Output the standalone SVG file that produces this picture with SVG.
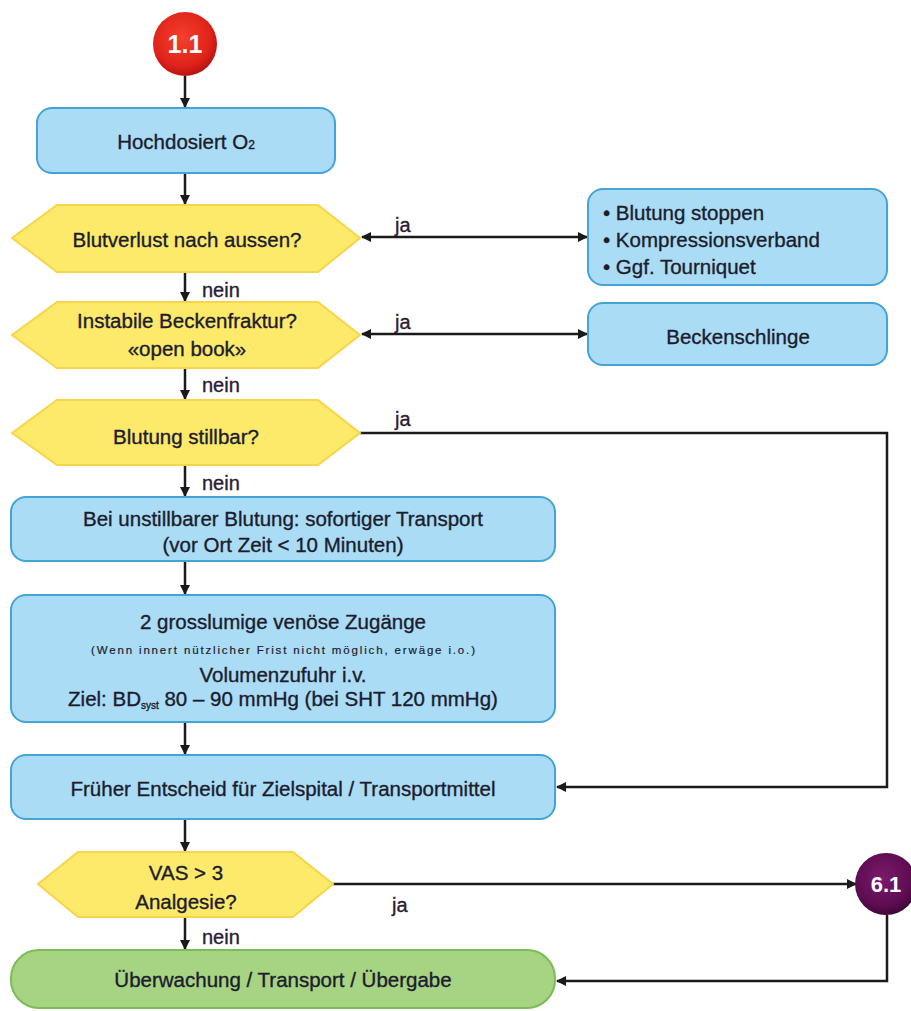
<svg xmlns="http://www.w3.org/2000/svg" width="911" height="1011" viewBox="0 0 911 1011">
<defs>
<style>
.t{font-family:"Liberation Sans",Arial,sans-serif;font-size:20.5px;fill:#1c1c2e;stroke:#1c1c2e;stroke-width:0.35;text-anchor:middle}
.tl{font-family:"Liberation Sans",Arial,sans-serif;font-size:20.5px;fill:#1c1c2e;stroke:#1c1c2e;stroke-width:0.35}
.lab{font-family:"Liberation Sans",Arial,sans-serif;font-size:20px;fill:#2a1c33;stroke:#2a1c33;stroke-width:0.35}
.sm{font-family:"Liberation Sans",Arial,sans-serif;font-size:11.5px;fill:#1c1c2e;stroke:#1c1c2e;stroke-width:0.2;text-anchor:middle}
.blue{fill:#aadcf5;stroke:#44a4d6;stroke-width:2}
.yel{fill:#fde96a;stroke:#f6d54a;stroke-width:2}
.grn{fill:#a6d483;stroke:#7cbb55;stroke-width:2}
.ln{fill:none;stroke:#1a1a1a;stroke-width:2.5}
.ct{font-family:"Liberation Sans",Arial,sans-serif;font-weight:bold;fill:#ffffff;text-anchor:middle}
</style>
<marker id="ah" viewBox="0 0 10 10" refX="9" refY="5" markerWidth="4.8" markerHeight="4" markerUnits="strokeWidth" orient="auto-start-reverse">
<path d="M0,0 L10,5 L0,10 z" fill="#1a1a1a"/>
</marker>
<radialGradient id="red" cx="0.45" cy="0.4" r="0.6">
<stop offset="0" stop-color="#f4402c"/>
<stop offset="0.75" stop-color="#e0231a"/>
<stop offset="1" stop-color="#b81410"/>
</radialGradient>
<radialGradient id="pur" cx="0.45" cy="0.4" r="0.6">
<stop offset="0" stop-color="#7a1a6c"/>
<stop offset="0.75" stop-color="#5e0c52"/>
<stop offset="1" stop-color="#420638"/>
</radialGradient>
</defs>
<rect width="911" height="1011" fill="#ffffff"/>

<g id="connectors">
<line class="ln" x1="185" y1="76" x2="185" y2="107" marker-end="url(#ah)"/>
<line class="ln" x1="185" y1="174" x2="185" y2="204" marker-end="url(#ah)"/>
<line class="ln" x1="185" y1="273" x2="185" y2="301" marker-end="url(#ah)"/>
<line class="ln" x1="185" y1="369" x2="185" y2="399" marker-end="url(#ah)"/>
<line class="ln" x1="185" y1="466" x2="185" y2="496" marker-end="url(#ah)"/>
<line class="ln" x1="185" y1="561" x2="185" y2="594" marker-end="url(#ah)"/>
<line class="ln" x1="185" y1="723" x2="185" y2="754" marker-end="url(#ah)"/>
<line class="ln" x1="185" y1="820" x2="185" y2="851" marker-end="url(#ah)"/>
<line class="ln" x1="185" y1="918" x2="185" y2="949" marker-end="url(#ah)"/>
<line class="ln" x1="362" y1="237" x2="587" y2="237" marker-start="url(#ah)" marker-end="url(#ah)"/>
<line class="ln" x1="362" y1="334" x2="587" y2="334" marker-start="url(#ah)" marker-end="url(#ah)"/>
<path class="ln" d="M360,433 H887 V787 H557" marker-end="url(#ah)"/>
<line class="ln" x1="333" y1="884" x2="856" y2="884" marker-end="url(#ah)"/>
<path class="ln" d="M887,915 V981 H557" marker-end="url(#ah)"/>
<text class="lab" x="395" y="232">ja</text>
<text class="lab" x="395" y="329">ja</text>
<text class="lab" x="395" y="426">ja</text>
<text class="lab" x="392" y="912">ja</text>
<text class="lab" x="202" y="297">nein</text>
<text class="lab" x="202" y="392">nein</text>
<text class="lab" x="202" y="490">nein</text>
<text class="lab" x="202" y="944">nein</text>
</g>

<g id="start">
<circle cx="185" cy="44" r="32" fill="url(#red)"/>
<text class="ct" x="185" y="53" font-size="25">1.1</text>
</g>

<g id="hochdosiert">
<rect class="blue" x="37" y="108" width="298" height="65" rx="15"/>
<text class="t" x="186" y="149">Hochdosiert O<tspan font-size="12">2</tspan></text>
</g>

<g id="blutverlust">
<polygon class="yel" points="12,238 57,205 318,205 360,238 318,272 57,272"/>
<text class="t" x="187" y="247">Blutverlust nach aussen?</text>
</g>

<g id="blutung-stoppen">
<rect class="blue" x="588" y="189" width="299" height="96" rx="15"/>
<text class="tl" x="603" y="220">• Blutung stoppen</text>
<text class="tl" x="603" y="247">• Kompressionsverband</text>
<text class="tl" x="603" y="274">• Ggf. Tourniquet</text>
</g>

<g id="beckenfraktur">
<polygon class="yel" points="12,335 57,302 318,302 360,335 318,368 57,368"/>
<text class="t" x="187" y="328">Instabile Beckenfraktur?</text>
<text class="t" x="187" y="356">«open book»</text>
</g>

<g id="beckenschlinge">
<rect class="blue" x="588" y="303" width="299" height="62" rx="15"/>
<text class="t" x="738" y="344">Beckenschlinge</text>
</g>

<g id="stillbar">
<polygon class="yel" points="12,433 57,400 318,400 360,433 318,465 57,465"/>
<text class="t" x="186" y="444">Blutung stillbar?</text>
</g>

<g id="transport">
<rect class="blue" x="11" y="497" width="544" height="64" rx="15"/>
<text class="t" x="283" y="526">Bei unstillbarer Blutung: sofortiger Transport</text>
<text class="t" x="283" y="552">(vor Ort Zeit &lt; 10 Minuten)</text>
</g>

<g id="zugaenge">
<rect class="blue" x="11" y="595" width="544" height="127" rx="15"/>
<text class="t" x="283" y="629">2 grosslumige venöse Zugänge</text>
<text class="sm" x="283" y="654" textLength="384" lengthAdjust="spacing">(Wenn innert nützlicher Frist nicht möglich, erwäge i.o.)</text>
<text class="t" x="283" y="682">Volumenzufuhr i.v.</text>
<text class="t" x="283" y="706">Ziel: BD<tspan font-size="10" dy="3">syst</tspan><tspan dy="-3"> 80 – 90 mmHg (bei SHT 120 mmHg)</tspan></text>
</g>

<g id="zielspital">
<rect class="blue" x="11" y="755" width="544" height="64" rx="15"/>
<text class="t" x="283" y="796">Früher Entscheid für Zielspital / Transportmittel</text>
</g>

<g id="vas">
<polygon class="yel" points="38,884 78,852 293,852 333,884 293,917 78,917"/>
<text class="t" x="186" y="880">VAS &gt; 3</text>
<text class="t" x="186" y="909">Analgesie?</text>
</g>

<g id="analgesie-ref">
<circle cx="886" cy="884" r="31" fill="url(#pur)"/>
<text class="ct" x="886" y="892" font-size="22">6.1</text>
</g>

<g id="uebergabe">
<rect class="grn" x="11" y="950" width="544" height="58" rx="28"/>
<text class="t" x="283" y="987">Überwachung / Transport / Übergabe</text>
</g>
</svg>
